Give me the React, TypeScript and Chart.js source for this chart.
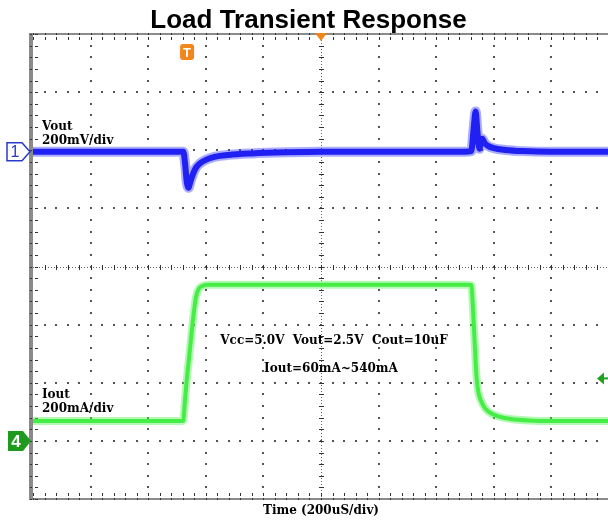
import React, { useEffect, useRef } from 'react';
import { Chart, registerables } from 'chart.js';

Chart.register(...registerables);

// ---- data ----
const chartTitle = 'Load Transient Response';
const timeAxisLabel = 'Time (200uS/div)';
const timeDivisions = [0, 200, 400, 600, 800, 1000, 1200, 1400, 1600, 1800, 2000]; // uS
const verticalDivisions = 8;

const voutTime = [0, 500, 522, 528, 534, 540, 546, 555, 566, 580, 600, 630, 680, 760, 880, 1000, 1500, 1522, 1530, 1537, 1543, 1550, 1556, 1560, 1568, 1580, 1600, 1640, 1700, 1800, 2000];
const voutMv = [0, 0, 0, -40, -105, -124, -105, -78, -55, -40, -28, -18, -11, -6, -2, 0, 0, 2, 80, 138, 70, 10, 38, 45, 30, 20, 12, 6, 2, 0, 0];

const ioutTime = [0, 518, 522, 527, 533, 545, 557, 566, 575, 588, 610, 1000, 1500, 1522, 1528, 1534, 1540, 1546, 1555, 1570, 1590, 1620, 1660, 1720, 1800, 2000];
const ioutMa = [68, 68, 70, 130, 200, 315, 430, 495, 522, 533, 537, 537, 537, 536, 450, 330, 220, 170, 140, 112, 95, 83, 75, 70, 68, 68];

const voutRangeMv = [-1195, 405]; // 200 mV/div, 8 div
const ioutRangeMa = [-200, 1400]; // 200 mA/div, 8 div
const triggerTime = 535;
const triggerLevelMa = 215;

const voutLabel = ['Vout', '200mV/div'];
const ioutLabel = ['Iout', '200mA/div'];
const conditionText = ['Vcc=5.0V  Vout=2.5V  Cout=10uF', 'Iout=60mA~540mA'];

const VOUT_COLOR = 'rgb(20,20,238)';
const VOUT_HALO = 'rgba(50,50,250,0.4)';
const IOUT_COLOR = 'rgb(55,235,55)';
const IOUT_HALO = 'rgba(90,240,90,0.45)';
const LABEL_FONT = 'bold 12px "DejaVu Serif"';

const graticulePlugin = {
  id: 'graticule',
  beforeDatasetsDraw(chart: any) {
    const { ctx, chartArea: a } = chart;
    const xs = chart.scales.x;
    const cols = timeDivisions.map((t) => xs.getPixelForValue(t));
    const rowH = (a.bottom - a.top) / verticalDivisions;
    const rows: number[] = [];
    for (let k = 0; k <= verticalDivisions; k++) rows.push(a.top + k * rowH);
    const minorX = (cols[1] - cols[0]) / 5;
    const minorY = rowH / 5;
    const cx = cols[5];
    const cy = rows[4];
    ctx.save();
    const dot = (x: number, y: number, c = '#555') => {
      ctx.fillStyle = c;
      ctx.fillRect(Math.round(x) - 1, Math.round(y) - 1, 2, 2);
    };
    // interior vertical dotted lines
    for (let k = 1; k < cols.length - 1; k++) {
      if (k === 5) continue;
      for (let m = 1; m < verticalDivisions * 5; m++) dot(cols[k], a.top + m * minorY);
    }
    // interior horizontal dotted lines
    for (let j = 1; j < verticalDivisions; j++) {
      if (j === 4) continue;
      for (let m = 1; m < 50; m++) dot(a.left + m * minorX, rows[j]);
    }
    // center lines
    ctx.strokeStyle = '#666';
    ctx.lineWidth = 1;
    ctx.setLineDash([1, 2]);
    ctx.beginPath();
    ctx.moveTo(Math.round(cx) + 0.5, a.top);
    ctx.lineTo(Math.round(cx) + 0.5, a.bottom);
    ctx.moveTo(a.left, Math.round(cy) + 0.5);
    ctx.lineTo(a.right, Math.round(cy) + 0.5);
    ctx.stroke();
    ctx.setLineDash([]);
    ctx.fillStyle = '#333';
    for (let m = 1; m < verticalDivisions * 5; m++) {
      const y = Math.round(a.top + m * minorY);
      ctx.fillRect(Math.round(cx) - 2, y, 5, 1);
    }
    for (let m = 1; m < 50; m++) {
      const x = Math.round(a.left + m * minorX);
      ctx.fillRect(x, Math.round(cy) - 2, 1, 5);
    }
    // borders
    ctx.fillStyle = '#8a8a8a';
    ctx.fillRect(a.left - 4, a.top - 1, 4, a.bottom - a.top + 2);
    ctx.fillRect(a.left - 4, a.top - 1, a.right - a.left + 4, 2);
    ctx.fillRect(a.left - 4, a.bottom - 1, a.right - a.left + 4, 2);
    ctx.fillStyle = '#333';
    for (let m = 0; m <= 50; m++) {
      const x = Math.round(a.left + m * minorX);
      ctx.fillRect(x, a.top - 1, 1, 2);
      ctx.fillRect(x, a.top + 3, 1, 3);
      ctx.fillRect(x, a.bottom - 1, 1, 2);
      ctx.fillRect(x, a.bottom - 6, 1, 3);
    }
    for (let m = 0; m <= verticalDivisions * 5; m++) {
      const y = Math.round(a.top + m * minorY);
      ctx.fillRect(a.left - 3, y, 2, 1);
      ctx.fillRect(a.left + 2, y, 3, 1);
    }
    ctx.restore();
  },
  afterDraw(chart: any) {
    const { ctx, chartArea: a } = chart;
    const xs = chart.scales.x;
    const yv = chart.scales.yV;
    const yi = chart.scales.yI;
    const v0 = yv.getPixelForValue(0);
    const i0 = yi.getPixelForValue(0);
    ctx.save();
    // text labels
    ctx.fillStyle = '#000';
    ctx.font = LABEL_FONT;
    ctx.textBaseline = 'alphabetic';
    ctx.textAlign = 'left';
    ctx.fillText(voutLabel[0], a.left + 9, v0 - 22);
    ctx.fillText(voutLabel[1], a.left + 9, v0 - 8);
    ctx.fillText(ioutLabel[0], a.left + 9, i0 - 43);
    ctx.fillText(ioutLabel[1], a.left + 9, i0 - 29);
    ctx.textAlign = 'center';
    ctx.fillText(conditionText[0], a.left + 301, 344);
    ctx.fillText(conditionText[1], a.left + 298, 372);

    // channel 1 marker
    ctx.beginPath();
    ctx.moveTo(7, v0 - 9);
    ctx.lineTo(22, v0 - 9);
    ctx.lineTo(a.left - 3, v0);
    ctx.lineTo(22, v0 + 9);
    ctx.lineTo(7, v0 + 9);
    ctx.closePath();
    ctx.fillStyle = '#fff';
    ctx.fill();
    ctx.strokeStyle = '#2a3acc';
    ctx.lineWidth = 1.5;
    ctx.stroke();
    ctx.fillStyle = '#2a3acc';
    ctx.font = '16px "Liberation Sans"';
    ctx.textBaseline = 'middle';
    ctx.fillText('1', 15, v0 + 1);

    // channel 4 marker
    ctx.beginPath();
    ctx.moveTo(8, i0 - 10);
    ctx.lineTo(23, i0 - 10);
    ctx.lineTo(a.left - 2, i0);
    ctx.lineTo(23, i0 + 10);
    ctx.lineTo(8, i0 + 10);
    ctx.closePath();
    ctx.fillStyle = '#1e9a1e';
    ctx.fill();
    ctx.fillStyle = '#fff';
    ctx.font = 'bold 17px "Liberation Sans"';
    ctx.fillText('4', 16, i0 + 1);

    // trigger position marker (orange T)
    const tx = xs.getPixelForValue(triggerTime);
    const ty = a.top + 18;
    ctx.fillStyle = '#f0861c';
    ctx.beginPath();
    (ctx as any).roundRect(tx - 7, ty - 8, 14, 16, 3);
    ctx.fill();
    ctx.fillStyle = '#fff';
    ctx.font = 'bold 13px "Liberation Sans"';
    ctx.fillText('T', tx, ty + 1);

    // center time marker (orange triangle)
    const mx = xs.getPixelForValue(timeDivisions[5]);
    ctx.fillStyle = '#f0861c';
    ctx.beginPath();
    ctx.moveTo(mx - 6, a.top - 1);
    ctx.lineTo(mx + 6, a.top - 1);
    ctx.lineTo(mx, a.top + 7);
    ctx.closePath();
    ctx.fill();

    // trigger level arrow (green)
    const ly = yi.getPixelForValue(triggerLevelMa);
    ctx.fillStyle = '#22a022';
    ctx.beginPath();
    ctx.moveTo(597, ly);
    ctx.lineTo(604, ly - 6);
    ctx.lineTo(604, ly + 6);
    ctx.closePath();
    ctx.fill();
    ctx.fillRect(603, ly - 1, 8, 2);
    ctx.restore();
  },
};

export default function App() {
  const ref = useRef<HTMLCanvasElement | null>(null);
  useEffect(() => {
    if (!ref.current) return;
    const vout = voutTime.map((t, i) => ({ x: t, y: voutMv[i] }));
    const iout = ioutTime.map((t, i) => ({ x: t, y: ioutMa[i] }));
    const common = { pointRadius: 0, fill: false, cubicInterpolationMode: 'monotone' as const };
    const chart = new Chart(ref.current, {
      type: 'line',
      data: {
        datasets: [
          { ...common, label: 'Vout halo', data: vout, yAxisID: 'yV', borderColor: VOUT_HALO, borderWidth: 10 },
          { ...common, label: 'Vout', data: vout, yAxisID: 'yV', borderColor: VOUT_COLOR, borderWidth: 6 },
          { ...common, label: 'Iout halo', data: iout, yAxisID: 'yI', borderColor: IOUT_HALO, borderWidth: 8 },
          { ...common, label: 'Iout', data: iout, yAxisID: 'yI', borderColor: IOUT_COLOR, borderWidth: 4 },
        ],
      },
      options: {
        responsive: false,
        animation: false,
        layout: { padding: 0 },
        plugins: {
          legend: { display: false },
          tooltip: { enabled: false },
          title: {
            display: true,
            text: chartTitle,
            color: '#000',
            font: { family: '"Liberation Sans"', size: 26, weight: 'bold', lineHeight: 1 },
            padding: { top: 8, bottom: 0 },
          },
        },
        scales: {
          x: {
            type: 'linear',
            min: timeDivisions[0],
            max: timeDivisions[timeDivisions.length - 1],
            grid: { display: false },
            border: { display: false },
            ticks: { display: false },
            title: {
              display: true,
              text: timeAxisLabel,
              color: '#000',
              font: { family: '"DejaVu Serif"', size: 12, weight: 'bold', lineHeight: 1.2 },
              padding: { top: 0, bottom: 4 },
            },
            afterFit: (s: any) => { s.height = 23; },
          },
          yV: {
            type: 'linear',
            position: 'left',
            min: voutRangeMv[0],
            max: voutRangeMv[1],
            grid: { display: false },
            border: { display: false },
            ticks: { display: false },
            afterFit: (s: any) => { s.width = 33; },
          },
          yI: {
            type: 'linear',
            position: 'right',
            min: ioutRangeMa[0],
            max: ioutRangeMa[1],
            grid: { display: false },
            border: { display: false },
            ticks: { display: false },
            afterFit: (s: any) => { s.width = 8; },
          },
        },
      },
      plugins: [graticulePlugin],
    });
    return () => chart.destroy();
  }, []);
  return (
    <div style={{ position: 'fixed', left: 0, top: 0, width: 608, height: 522, overflow: 'hidden', background: '#fff' }}>
      <canvas ref={ref} width={617} height={522} style={{ display: 'block' }} />
    </div>
  );
}
